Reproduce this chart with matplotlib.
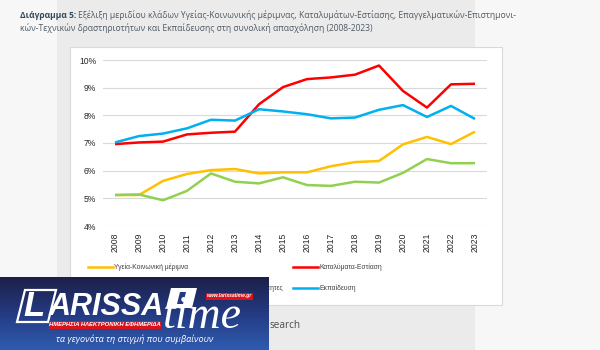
import matplotlib

matplotlib.use("Agg")
import matplotlib.pyplot as plt
import numpy as np
from matplotlib.colors import LinearSegmentedColormap
from matplotlib.lines import Line2D
from matplotlib.patches import Polygon, Rectangle

# data (share of total employment, %)
years = [str(y) for y in range(2008, 2024)]
health = [5.12, 5.12, 5.63, 5.88, 6.02, 6.06, 5.90, 5.94, 5.94, 6.16, 6.31, 6.35, 6.95, 7.22, 6.96, 7.41]
hospitality = [6.96, 7.02, 7.05, 7.31, 7.37, 7.41, 8.40, 9.02, 9.31, 9.37, 9.47, 9.80, 8.88, 8.28, 9.12, 9.14]
professional = [5.12, 5.14, 4.93, 5.27, 5.90, 5.60, 5.54, 5.76, 5.48, 5.45, 5.60, 5.57, 5.92, 6.42, 6.27, 6.27]
education = [7.02, 7.25, 7.34, 7.53, 7.84, 7.81, 8.22, 8.14, 8.04, 7.89, 7.92, 8.20, 8.37, 7.94, 8.34, 7.87]
y_ticks = [4, 5, 6, 7, 8, 9, 10]

labels = [
    "Υγεία-Κοινωνική μέριμνα",
    "Καταλύματα-Εστίαση",
    "Επαγγελματικές-Επιστημονικές-Τεχνικές δραστηριότητες",
    "Εκπαίδευση",
]
colors = ["#FFC000", "#FF0000", "#92D050", "#00B0F0"]

W, H = 600, 350


def frac(x0, y0, x1, y1):
    # pixel box (top-left origin) -> figure fraction rect
    return [x0 / W, 1 - y1 / H, (x1 - x0) / W, (y1 - y0) / H]


fig = plt.figure(figsize=(6, 3.5), dpi=100, facecolor="#f7f7f7")

# page background, chart frame, caption
bg = fig.add_axes([0, 0, 1, 1], zorder=0)
bg.set_xlim(0, W)
bg.set_ylim(H, 0)
bg.axis("off")
bg.add_patch(Rectangle((57, 0), 418, H, color="#ebebeb", lw=0))
bg.add_patch(Rectangle((70, 47), 432, 258, facecolor="white", edgecolor="#d9d9d9", lw=0.8))

cap_size = 6.15
t1 = bg.text(20, 15, "Διάγραμμα 5:", family="Open Sans", weight="bold", fontsize=cap_size,
             color="#34495e", va="center")
fig.canvas.draw()
x_after = t1.get_window_extent().x1 + 2
bg.text(x_after, 15,
        "Εξέλιξη μεριδίου κλάδων Υγείας-Κοινωνικής μέριμνας, Καταλυμάτων-Εστίασης, Επαγγελματικών-Επιστημονι-",
        family="Open Sans", fontsize=cap_size, color="#4f5b66", va="center")
bg.text(20, 28, "κών-Τεχνικών δραστηριοτήτων και Εκπαίδευσης στη συνολική απασχόληση (2008-2023)",
        family="Open Sans", fontsize=cap_size, color="#4f5b66", va="center")

bg.text(270, 326, "search", family="Open Sans", fontsize=7.2, color="#4a4a4a", va="center")

# legend (manual, two rows)
legend_pos = [(88, 267), (293, 267), (88, 288), (293, 288)]
for (lx, ly), lab, col in zip(legend_pos, labels, colors):
    bg.add_line(Line2D([lx, lx + 25], [ly, ly], color=col, lw=1.8))
    bg.text(lx + 26, ly, lab, family="Liberation Sans", fontsize=4.9, color="#404040", va="center")

# chart
ax = fig.add_axes(frac(103, 60, 487, 226), zorder=1)
ax.patch.set_alpha(0)
x = np.arange(len(years))
for vals, col in [(health, colors[0]), (hospitality, colors[1]), (professional, colors[2]), (education, colors[3])]:
    ax.plot(x, vals, color=col, lw=1.8, solid_joinstyle="round", solid_capstyle="butt")
ax.set_xlim(-0.5, len(years) - 0.5)
ax.set_ylim(4, 10)
ax.set_yticks(y_ticks)
ax.set_yticklabels([f"{v}%" for v in y_ticks])
ax.set_xticks(x)
ax.set_xticklabels(years, rotation=90)
ax.grid(axis="y", color="#d9d9d9", lw=0.8)
ax.set_axisbelow(True)
for s in ax.spines.values():
    s.set_visible(False)
ax.tick_params(length=0, labelsize=6.2, labelcolor="#262626")
ax.tick_params(axis="y", pad=5)
ax.tick_params(axis="x", pad=5)
for lab in ax.get_xticklabels() + ax.get_yticklabels():
    lab.set_family("Liberation Sans")

# newspaper logo overlay
top = fig.add_axes([0, 0, 1, 1], zorder=3)
top.set_xlim(0, W)
top.set_ylim(H, 0)
top.axis("off")
grad = np.linspace(0, 1, 100).reshape(-1, 1)
cmap = LinearSegmentedColormap.from_list("logo", ["#1c2048", "#243a82", "#2f5bb0"])
top.imshow(grad, cmap=cmap, extent=(0, 269, 350, 277), aspect="auto", interpolation="bilinear")

top.add_patch(Polygon([(25, 290), (56, 290), (48, 322), (17, 322)], closed=True, fill=False,
                      edgecolor="white", lw=1.6))
top.text(34, 306, "L", family="Liberation Sans", weight="bold", style="italic", fontsize=25,
         color="white", ha="center", va="center")
top.text(49, 315, "ARISSA", family="Liberation Sans", weight="bold", style="italic", fontsize=22,
         color="white", va="baseline")
top.text(163, 328, "time", family="Liberation Serif", style="italic", fontsize=33,
         color="white", va="baseline")
top.add_patch(Polygon([(171, 288), (197, 288), (192, 308), (166, 308)], closed=True,
                      facecolor="white", edgecolor="none"))
top.add_patch(Polygon([(180, 292), (186, 292), (183, 304), (177, 304)], closed=True,
                      facecolor="#243a82", edgecolor="none"))

top.add_patch(Rectangle((206, 292.5), 47, 7, facecolor="#d8131b", lw=0))
top.text(229.5, 296, "www.larissatime.gr", family="Liberation Sans", weight="bold", style="italic",
         fontsize=3.6, color="white", ha="center", va="center")
top.add_patch(Rectangle((49, 321), 112, 7.5, facecolor="#d8131b", lw=0))
top.text(105, 324.8, "ΗΜΕΡΗΣΙΑ ΗΛΕΚΤΡΟΝΙΚΗ ΕΦΗΜΕΡΙΔΑ", family="Liberation Sans", weight="bold",
         style="italic", fontsize=4.2, color="white", ha="center", va="center")
top.text(135, 339.5, "τα γεγονότα τη στιγμή που συμβαίνουν", family="Open Sans", style="italic",
         fontsize=6.6, color="white", ha="center", va="center")

fig.savefig("out.png", dpi=100, facecolor=fig.get_facecolor())
